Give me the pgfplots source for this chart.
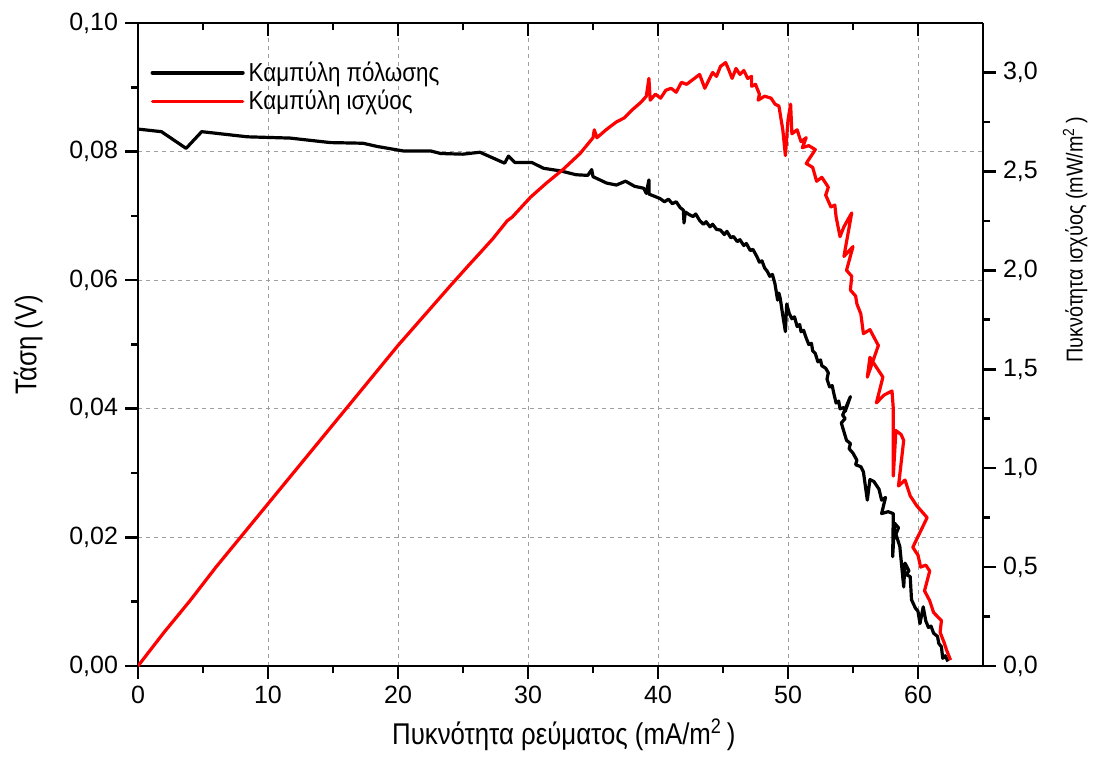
\documentclass[border=0pt]{standalone}
\usepackage{fontspec}
\setmainfont{Liberation Sans}
\newfontfamily\narrowfont[FakeStretch=0.86]{Liberation Sans}
\usepackage{pgfplots}
\pgfplotsset{compat=1.18}
\usepackage{pgfplotstable}

\pgfplotstableread{
x y
0 0.0835
1.8 0.0831
3.7 0.0805
4.9 0.0831
8.4 0.0823
11.7 0.0821
14.8 0.0814
17.3 0.0813
18.4 0.0808
20.4 0.0801
22.5 0.0801
23.3 0.0797
25.0 0.0796
26.3 0.0799
27.2 0.0791
28.2 0.0782
28.5 0.0793
29.0 0.0783
30.3 0.0783
31.2 0.0774
32.5 0.0770
33.7 0.0764
34.6 0.0763
34.9 0.0772
35.0 0.0761
36.05 0.0751
36.8 0.0748
37.5 0.0754
38.2 0.0746
38.9 0.0743
39.1 0.0735
39.3 0.0756
39.3 0.0734
40.15 0.0727
40.5 0.0722
40.8 0.0726
41.1 0.0719
41.4 0.0722
41.7 0.0713
41.95 0.0709
42.0 0.0689
42.1 0.0706
42.4 0.0702
42.7 0.0699
42.9 0.0703
43.2 0.0693
43.5 0.0687
43.7 0.0691
44.0 0.0683
44.2 0.0687
44.5 0.0679
44.8 0.0678
45.1 0.0671
45.3 0.0676
45.6 0.0666
45.8 0.0668
46.1 0.0660
46.3 0.0663
46.6 0.0654
46.8 0.0657
47.1 0.0646
47.3 0.0648
47.6 0.0637
47.8 0.0628
48.0 0.0630
48.2 0.0619
48.4 0.0614
48.6 0.0606
48.8 0.0609
49.0 0.0594
49.2 0.0569
49.3 0.0580
49.4 0.0572
49.6 0.0545
49.8 0.0520
49.9 0.0563
50.1 0.0548
50.3 0.0540
50.5 0.0543
50.7 0.0528
50.9 0.0531
51.0 0.0520
51.2 0.0522
51.4 0.0510
51.6 0.0500
51.8 0.0502
51.9 0.0490
52.1 0.0486
52.3 0.0473
52.5 0.0476
52.6 0.0467
52.9 0.0463
53.1 0.0456
53.0 0.0446
53.2 0.0434
53.4 0.0436
53.5 0.0426
53.7 0.0409
53.9 0.0412
54.0 0.0400
54.3 0.0402
54.4 0.0396
54.8 0.0419
54.2 0.0390
54.4 0.0385
54.1 0.0378
54.5 0.0351
54.8 0.0346
54.7 0.0338
55.0 0.0331
55.3 0.0320
55.2 0.0313
55.6 0.0310
55.8 0.0302
56.1 0.0258
56.3 0.0290
56.6 0.0287
56.8 0.0281
57.0 0.0275
57.2 0.0258
57.5 0.0262
57.2 0.0237
57.7 0.0240
58.1 0.0237
58.05 0.0170
58.2 0.0222
58.5 0.0215
58.3 0.0205
58.6 0.0186
58.9 0.0123
59.0 0.0160
59.3 0.0148
59.1 0.0142
59.4 0.0139
59.5 0.0103
59.8 0.0090
60.0 0.0085
60.15 0.0066
60.4 0.0092
60.6 0.0070
60.8 0.0060
61.0 0.0062
61.2 0.0051
61.5 0.0046
61.6 0.0035
61.8 0.0030
61.9 0.0012
62.1 0.0016
62.3 0.0007
}\polar

\pgfplotstableread{
x y
0 0
2 0.17
4 0.33
6 0.50
8 0.66
10 0.82
12 0.98
14 1.14
16 1.30
18 1.46
20 1.62
22 1.77
24 1.92
25.5 2.03
26.2 2.08
27.3 2.16
28.4 2.25
28.8 2.27
30.2 2.37
31.4 2.44
32.7 2.51
34.0 2.59
35.0 2.67
35.1 2.71
35.3 2.67
36.0 2.71
36.8 2.75
37.4 2.77
38.0 2.81
38.7 2.85
39.1 2.88
39.3 2.97
39.4 2.86
39.8 2.89
40.2 2.87
40.6 2.91
41.0 2.92
41.4 2.90
41.8 2.95
42.2 2.94
42.6 2.96
43.2 2.99
43.6 2.92
44.2 3.00
44.5 2.98
44.8 3.03
45.2 3.05
45.4 3.02
45.7 2.97
46.0 3.02
46.3 2.99
46.6 3.01
46.9 2.97
47.2 2.98
47.2 2.93
47.5 2.94
47.8 2.89
47.7 2.86
48.2 2.88
48.7 2.87
49.0 2.84
49.3 2.83
49.6 2.71
49.8 2.58
50.0 2.76
50.2 2.84
50.3 2.69
50.7 2.71
51.0 2.65
51.4 2.67
51.1 2.62
51.6 2.63
52.1 2.61
51.4 2.54
51.9 2.52
52.2 2.45
52.6 2.47
53.1 2.42
52.9 2.38
53.3 2.32
53.6 2.33
53.7 2.27
54.0 2.17
54.3 2.22
54.9 2.29
54.3 2.07
55.0 2.12
54.5 2.00
54.9 1.97
54.8 1.90
55.2 1.87
55.3 1.83
55.6 1.78
55.8 1.68
56.3 1.70
56.95 1.62
56.1 1.46
56.3 1.56
56.7 1.52
57.3 1.46
56.8 1.33
57.4 1.37
58.0 1.39
58.1 1.30
58.1 0.96
58.3 1.19
58.7 1.17
58.9 1.14
58.5 0.91
59.0 0.94
59.2 0.90
59.4 0.86
59.9 0.81
60.7 0.75
59.6 0.60
60.0 0.56
60.2 0.50
60.6 0.51
60.9 0.48
60.5 0.38
60.9 0.33
61.2 0.27
61.8 0.23
61.7 0.17
62.0 0.12
62.2 0.08
62.5 0.03
}\power

\begin{document}
\begin{tikzpicture}
\pgfplotsset{
  every axis/.append style={
    width=422.5pt, height=321.5pt, scale only axis,
    xmin=0, xmax=65,
    axis line style={line width=1.3pt},
    every tick/.style={black, line width=1.3pt},
    major tick length=6.5pt, minor tick length=3.5pt,
    tick label style={font=\fontsize{12.5}{14}\selectfont},
    /pgf/number format/assume math mode=true,
    /pgf/number format/use comma,
  },
}
% main (left) axis
\begin{axis}[
  axis x line*=bottom, axis y line*=left,
  tick align=outside,
  ymin=0, ymax=0.1,
  xtick={0,10,...,60}, minor x tick num=1,
  ytick={0,0.02,0.04,0.06,0.08,0.1}, minor y tick num=1,
  yticklabel style={/pgf/number format/fixed, /pgf/number format/fixed zerofill, /pgf/number format/precision=2},
  grid=major,
  major grid style={dashed, dash pattern=on 2pt off 2pt, line width=0.5pt, gray!75},
  xlabel={\narrowfont\fontsize{15}{17}\selectfont Πυκνότητα ρεύματος (mA/m\textsuperscript{2}\,)},
  ylabel={\narrowfont\fontsize{15}{17}\selectfont Τάση (V)},
  xlabel style={at={(axis description cs:0.504,-0.107)}, anchor=center},
  ylabel style={at={(axis description cs:-0.130,0.5)}, anchor=center},
  legend style={draw=none, fill=none, at={(axis description cs:0.012,0.950)}, anchor=north west,
    font=\narrowfont\fontsize{13}{14}\selectfont, row sep=-1pt, inner sep=1pt},
  legend cell align=left,
  legend image code/.code={\draw[#1] (0pt,0pt) -- (45pt,0pt);},
]
\coordinate (bl) at (axis description cs:0,0);
\coordinate (tr) at (axis description cs:1,1);
\addplot[black, line width=1.6pt, line join=round, forget plot] table[x=x,y=y] {\polar};
\addlegendimage{black, line width=2.1pt, line cap=round}
\addlegendentry{Καμπύλη πόλωσης}
\addlegendimage{red, line width=1.7pt, line cap=round}
\addlegendentry{Καμπύλη ισχύος}
\end{axis}
% right axis
\begin{axis}[
  axis x line=none, axis y line*=right,
  tick align=outside,
  ymin=0, ymax=3.25,
  ytick={0,0.5,...,3.0}, minor y tick num=1,
  yticklabel style={/pgf/number format/fixed, /pgf/number format/fixed zerofill, /pgf/number format/precision=1},
  ylabel={\narrowfont\fontsize{11.5}{13}\selectfont Πυκνότητα ισχύος (mW/m\textsuperscript{2}\,)},
  ylabel style={at={(axis description cs:1.109,0.663)}, anchor=center},
]
\addplot[red, line width=1.6pt, line join=round] table[x=x,y=y] {\power};
\end{axis}
% top axis with inward ticks
\begin{axis}[
  axis x line*=top, axis y line=none,
  tick align=inside,
  ymin=0, ymax=1,
  xtick={0,10,...,60}, minor x tick num=1,
  xticklabels={},
]
\end{axis}
\path ([xshift=-69pt,yshift=-44pt]bl) rectangle ([xshift=60.5pt,yshift=11.5pt]tr);
\end{tikzpicture}
\end{document}
